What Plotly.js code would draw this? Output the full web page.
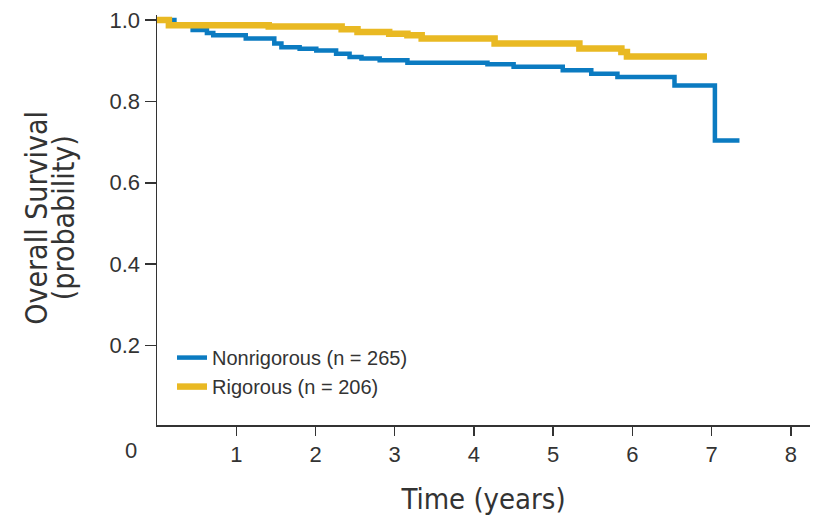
<!DOCTYPE html>
<html>
<head>
<meta charset="utf-8">
<script src="https://cdn.plot.ly/plotly-3.0.1.min.js"></script>
<style>
  html, body { margin: 0; padding: 0; background: #fff; }
  #chart { width: 817px; height: 519px; }
</style>
</head>
<body>
<div id="chart"></div>
<script>
// Kaplan-Meier overall survival, step estimates by group
const nonrigorousTime = [0, 0.22, 0.45, 0.63, 0.71, 1.12, 1.48, 1.57, 1.80, 2.01, 2.26, 2.43, 2.58, 2.81, 3.16, 4.17, 4.50, 5.12, 5.48, 5.81, 6.53, 7.04, 7.35];
const nonrigorousSurv = [1.0, 0.988, 0.975, 0.968, 0.962, 0.954, 0.942, 0.933, 0.929, 0.925, 0.917, 0.909, 0.905, 0.901, 0.895, 0.891, 0.885, 0.876, 0.868, 0.860, 0.839, 0.704, 0.704];

const rigorousTime = [0, 0.15, 1.41, 2.33, 2.53, 2.93, 3.16, 3.34, 4.26, 5.33, 5.86, 5.93, 6.94];
const rigorousSurv = [1.0, 0.987, 0.984, 0.977, 0.970, 0.966, 0.962, 0.954, 0.942, 0.930, 0.921, 0.910, 0.910];

const seriesNames = ['Nonrigorous (n = 265)', 'Rigorous (n = 206)'];
const xTicks = [1, 2, 3, 4, 5, 6, 7, 8];
const yTicks = [0.2, 0.4, 0.6, 0.8, 1.0];
const yTickText = ['0.2', '0.4', '0.6', '0.8', '1.0'];
const yTitleLines = ['Overall Survival', '(probability)'];

const SANS = '"Liberation Sans", Arial, Helvetica, sans-serif';
const NARROW = '"DejaVu Sans Condensed", "Liberation Sans Narrow", "Liberation Sans", sans-serif';
const INK = '#333333';

const traces = [
  {
    x: nonrigorousTime, y: nonrigorousSurv,
    type: 'scatter', mode: 'lines',
    line: { shape: 'hv', color: '#0b7bc1', width: 4.5 },
    name: seriesNames[0], legendgroup: 'a',
    hoverinfo: 'skip'
  },
  {
    x: rigorousTime, y: rigorousSurv,
    type: 'scatter', mode: 'lines',
    line: { shape: 'hv', color: '#e9b923', width: 6.5 },
    name: seriesNames[1], legendgroup: 'b',
    hoverinfo: 'skip'
  }
];

// two-line rotated y-axis title, one annotation per line
const yTitleAnnotations = yTitleLines.map((line, i) => ({
  xref: 'paper', yref: 'paper',
  x: i === 0 ? -0.184 : -0.142, y: 0.505,
  xanchor: 'center', yanchor: 'middle',
  text: line, textangle: -90, showarrow: false,
  font: { family: NARROW, size: 30, color: INK }
}));

const layout = {
  width: 817, height: 519,
  margin: { l: 157, r: 7, t: 15, b: 94 },
  paper_bgcolor: '#ffffff',
  plot_bgcolor: '#ffffff',
  font: { family: SANS, color: INK, size: 18 },
  showlegend: true,
  legend: {
    x: 0.023, y: 0.212, xanchor: 'left', yanchor: 'top',
    bgcolor: 'rgba(0,0,0,0)',
    font: { family: SANS, size: 20, color: INK },
    itemwidth: 30,
    traceorder: 'grouped',
    tracegroupgap: 0
  },
  xaxis: {
    range: [0, 8.24],
    tickvals: xTicks,
    ticks: 'outside', ticklen: 9, tickwidth: 1.5, tickcolor: INK,
    showline: true, linecolor: INK, linewidth: 1.5,
    showgrid: false, zeroline: false,
    tickfont: { family: SANS, size: 22, color: INK },
    title: { text: 'Time (years)', font: { family: NARROW, size: 29, color: INK }, standoff: 23 }
  },
  yaxis: {
    range: [0.005, 1.012],
    tickvals: yTicks, ticktext: yTickText,
    ticks: 'outside', ticklen: 11, tickwidth: 1.5, tickcolor: INK,
    showline: true, linecolor: INK, linewidth: 1.5,
    showgrid: false, zeroline: false,
    tickfont: { family: SANS, size: 22, color: INK }
  },
  annotations: [
    {
      // shared origin label
      xref: 'x', yref: 'y', x: 0, y: 0.005,
      text: '0', showarrow: false,
      xshift: -26, yshift: -25,
      font: { family: SANS, size: 22, color: INK }
    }
  ].concat(yTitleAnnotations)
};

Plotly.newPlot('chart', traces, layout, { displayModeBar: false, staticPlot: true });
</script>
</body>
</html>
